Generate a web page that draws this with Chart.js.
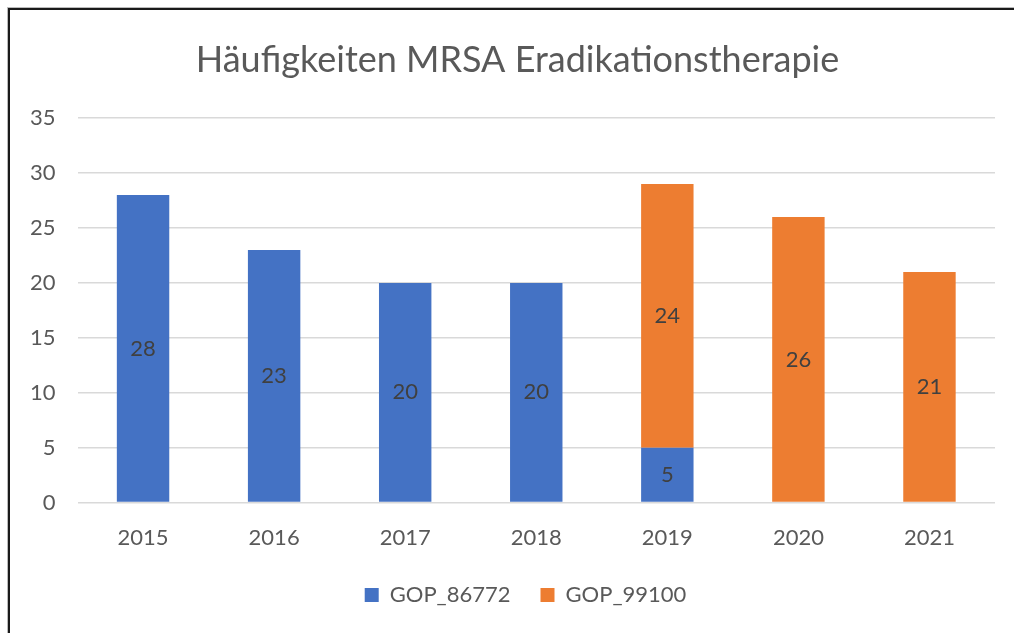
<!DOCTYPE html>
<html>
<head>
<meta charset="utf-8">
<script src="https://cdn.jsdelivr.net/npm/chart.js@4"></script>
<style>
  html, body { margin: 0; padding: 0; background: #fff; overflow: hidden; }
  #wrap { position: relative; width: 1014px; height: 633px; }
  #frame { position: absolute; left: 8px; top: 8px; width: 1100px; height: 700px;
           border-left: 2px solid #1a1a1a; border-top: 2px solid #1a1a1a; box-shadow: -1px -1px 0 #bbb; }
  canvas { position: absolute; left: 0; top: 0; }
</style>
</head>
<body>
<div id="wrap">
  <div id="frame"></div>
  <canvas id="chart" width="1014" height="633"></canvas>
</div>
<script>
const years = ['2015', '2016', '2017', '2018', '2019', '2020', '2021'];
const gop86772 = [28, 23, 20, 20, 5, 0, 0];
const gop99100 = [0, 0, 0, 0, 24, 26, 21];
const yTicks = [0, 5, 10, 15, 20, 25, 30, 35];

const FONT = 'Lato, "Open Sans", sans-serif';
const GREY = '#595959';

// Wertebeschriftung mittig im Balken
const barLabels = {
    id: 'barLabels',
    afterDatasetsDraw(chart) {
        const ctx = chart.ctx;
        ctx.save();
        ctx.font = '22px ' + FONT;
        ctx.fillStyle = '#404040';
        ctx.textAlign = 'center';
        ctx.textBaseline = 'middle';
        chart.data.datasets.forEach((ds, i) => {
            const meta = chart.getDatasetMeta(i);
            meta.data.forEach((bar, j) => {
                const v = ds.data[j];
                if (!v) return;
                ctx.fillText(String(v), bar.x, (bar.y + bar.base) / 2);
            });
        });
        ctx.restore();
    }
};

// Titel und Legende etwas nach rechts schieben (wie im Original)
const boxShift = {
    id: 'boxShift',
    afterLayout(chart) {
        [[chart.legend, 24], [chart.titleBlock, 16]].forEach(([box, dx]) => {
            if (!box) return;
            box.left += dx;
            box.right += dx;
        });
    }
};

new Chart(document.getElementById('chart'), {
    type: 'bar',
    data: {
        labels: years,
        datasets: [
            { label: 'GOP_86772', data: gop86772, backgroundColor: '#4472C4', borderWidth: 0 },
            { label: 'GOP_99100', data: gop99100, backgroundColor: '#ED7D31', borderWidth: 0 }
        ]
    },
    options: {
        responsive: false,
        animation: false,
        layout: { padding: { top: 39, left: 8, right: 19, bottom: 17 } },
        datasets: { bar: { categoryPercentage: 1.0, barPercentage: 0.4 } },
        plugins: {
            title: {
                display: true,
                text: 'Häufigkeiten MRSA Eradikationstherapie',
                color: GREY,
                font: { family: FONT, size: 36, weight: 'normal' },
                padding: { top: 0, bottom: 36 }
            },
            legend: {
                position: 'bottom',
                labels: {
                    color: GREY,
                    font: { family: FONT, size: 22 },
                    boxWidth: 14,
                    boxHeight: 14,
                    padding: 30
                }
            },
            tooltip: { enabled: false }
        },
        scales: {
            x: {
                stacked: true,
                grid: { display: false, drawTicks: true, tickLength: 19 },
                border: { display: false },
                ticks: { color: GREY, font: { family: FONT, size: 22 }, padding: 3 }
            },
            y: {
                stacked: true,
                min: 0,
                max: 35,
                afterBuildTicks: axis => { axis.ticks = yTicks.map(v => ({ value: v })); },
                grid: { color: '#d9d9d9', lineWidth: 1.5, drawTicks: false },
                border: { display: false },
                ticks: { color: GREY, font: { family: FONT, size: 22 }, padding: 22 }
            }
        }
    },
    plugins: [barLabels, boxShift]
});
</script>
</body>
</html>
